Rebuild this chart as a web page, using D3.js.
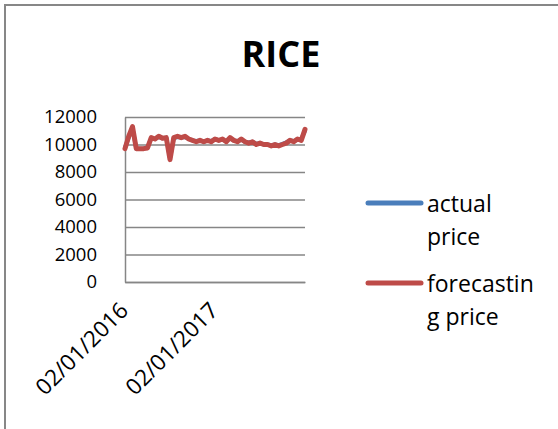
<!DOCTYPE html>
<html>
<head>
<meta charset="utf-8">
<script src="https://cdn.jsdelivr.net/npm/d3@7"></script>
<style>
  html, body { margin: 0; padding: 0; background: #fff; }
  svg { display: block; font-family: "Open Sans", "Liberation Sans", sans-serif; }
</style>
</head>
<body>
<svg id="chart" width="558" height="429"></svg>
<script>
// Semi-monthly observation dates (dd/mm/yyyy)
const dates = [
  "02/01/2016","16/01/2016","02/02/2016","16/02/2016","02/03/2016","16/03/2016",
  "02/04/2016","16/04/2016","02/05/2016","16/05/2016","02/06/2016","16/06/2016",
  "02/07/2016","16/07/2016","02/08/2016","16/08/2016","02/09/2016","16/09/2016",
  "02/10/2016","16/10/2016","02/11/2016","16/11/2016","02/12/2016","16/12/2016",
  "02/01/2017","16/01/2017","02/02/2017","16/02/2017","02/03/2017","16/03/2017",
  "02/04/2017","16/04/2017","02/05/2017","16/05/2017","02/06/2017","16/06/2017",
  "02/07/2017","16/07/2017","02/08/2017","16/08/2017","02/09/2017","16/09/2017",
  "02/10/2017","16/10/2017","02/11/2017","16/11/2017","02/12/2017","16/12/2017",
  "02/01/2018"
];

// Rice prices
const actualPrice = [
  9800, 10500, 11200, 9700, 9700, 9700, 9800, 10450, 10400, 10550,
  10450, 10500, 9000, 10450, 10550, 10500, 10550, 10400, 10300, 10250,
  10300, 10200, 10300, 10250, 10400, 10300, 10350, 10250, 10450, 10300,
  10250, 10350, 10200, 10150, 10200, 10050, 10100, 10000, 10000, 9950,
  10000, 9950, 10050, 10150, 10300, 10250, 10350, 10400, 11000
];
const forecastPrice = [
  9700, 10600, 11300, 9700, 9700, 9700, 9750, 10500, 10400, 10600,
  10450, 10500, 8900, 10500, 10600, 10500, 10600, 10400, 10300, 10200,
  10300, 10200, 10300, 10200, 10400, 10300, 10400, 10200, 10500, 10300,
  10200, 10400, 10200, 10100, 10200, 10000, 10100, 10000, 10000, 9900,
  10000, 9900, 10000, 10100, 10300, 10200, 10400, 10300, 11100
];

const yTicks = [0, 2000, 4000, 6000, 8000, 10000, 12000];
const xTickLabels = ["02/01/2016", "02/01/2017"];

const series = [
  { name: ["actual", "price"], values: actualPrice, color: "#4a7ebb", width: 4 },
  { name: ["forecastin", "g price"], values: forecastPrice, color: "#be4b48", width: 5 }
];

const svg = d3.select("#chart");

// Outer chart frame
svg.append("rect")
  .attr("x", 5).attr("y", 5)
  .attr("width", 600).attr("height", 500)
  .attr("fill", "none")
  .attr("stroke", "#878787")
  .attr("stroke-width", 2);

// Title
svg.append("text")
  .attr("x", 281).attr("y", 67)
  .attr("text-anchor", "middle")
  .attr("font-size", 36)
  .attr("font-weight", "bold")
  .attr("fill", "#000")
  .text("RICE");

const plot = { left: 125, right: 305, top: 117, bottom: 282 };

const x = d3.scalePoint().domain(dates).range([plot.left, plot.right]).padding(0);
const y = d3.scaleLinear().domain([0, 12000]).range([plot.bottom, plot.top]);

// Y axis with gridlines
const yAxis = svg.append("g")
  .attr("transform", `translate(${plot.left},0)`)
  .call(d3.axisLeft(y)
    .tickValues(yTicks)
    .tickSizeInner(-(plot.right - plot.left))
    .tickSizeOuter(0)
    .tickPadding(28)
    .tickFormat(d3.format("d")));
yAxis.select(".domain").attr("stroke", "#868686").attr("stroke-width", 1.5);
yAxis.selectAll(".tick line").attr("stroke", "#868686").attr("stroke-width", 1.5);
yAxis.selectAll(".tick text")
  .attr("font-size", 18.5)
  .attr("fill", "#000")
  .style("font-family", "'Open Sans', sans-serif");

// X axis (category labels, rotated)
const xAxis = svg.append("g")
  .attr("transform", `translate(0,${plot.bottom})`)
  .call(d3.axisBottom(x)
    .tickValues(xTickLabels)
    .tickSize(0)
    .tickPadding(0));
xAxis.select(".domain").attr("stroke", "#868686").attr("stroke-width", 1.5);
xAxis.selectAll(".tick text")
  .attr("y", 0).attr("dy", 0)
  .attr("text-anchor", "end")
  .attr("transform", "translate(4,30) rotate(-45)")
  .attr("font-size", 22.5)
  .attr("fill", "#000")
  .style("font-family", "'Open Sans', sans-serif");

// Price lines
const line = d3.line()
  .x((d, i) => x(dates[i]))
  .y(d => y(d));

svg.append("g").selectAll("path")
  .data(series)
  .join("path")
  .attr("d", s => line(s.values))
  .attr("fill", "none")
  .attr("stroke", s => s.color)
  .attr("stroke-width", s => s.width)
  .attr("stroke-linejoin", "round")
  .attr("stroke-linecap", "round");

// Legend
const legendY = [203, 283];
const legend = svg.append("g").selectAll("g")
  .data(series)
  .join("g")
  .attr("transform", (s, i) => `translate(0,${legendY[i]})`);
legend.append("line")
  .attr("x1", 368).attr("x2", 421)
  .attr("y1", 0).attr("y2", 0)
  .attr("stroke", s => s.color)
  .attr("stroke-width", 5)
  .attr("stroke-linecap", "round");
legend.append("text")
  .attr("x", 427)
  .attr("font-size", 23)
  .attr("fill", "#000")
  .selectAll("tspan")
  .data(s => s.name)
  .join("tspan")
  .attr("x", 427)
  .attr("y", (d, i) => 9 + i * 33)
  .text(d => d);
</script>
</body>
</html>
